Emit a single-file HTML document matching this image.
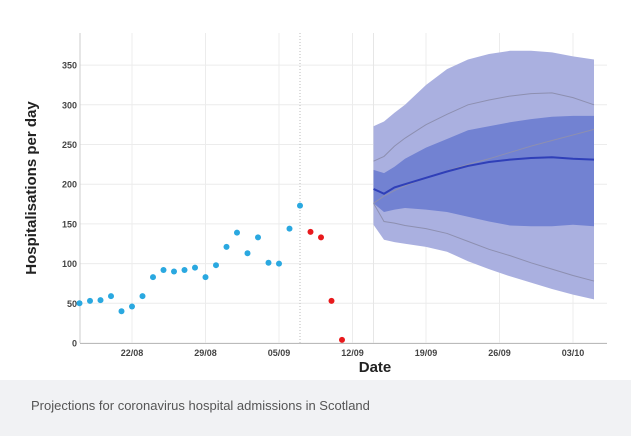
<!DOCTYPE html>
<html><head><meta charset="utf-8"><style>
body{margin:0;width:631px;height:436px;background:#fff;font-family:"Liberation Sans",sans-serif;overflow:hidden}
#cap{position:absolute;left:0;top:380px;width:631px;height:56px;background:#f1f2f4}
#cap span{position:absolute;left:31px;top:18px;font-size:13px;color:#555}
</style></head><body>
<svg id="chart" width="631" height="380" style="position:absolute;left:0;top:0"></svg>
<div id="cap"><span>Projections for coronavirus hospital admissions in Scotland</span></div>
<script>
const yTicks=[0,50,100,150,200,250,300,350];
const xLabelDays=[0,7,14,21,28,35,42];
const xLabels=["22/08","29/08","05/09","12/09","19/09","26/09","03/10"];
const obsDays=[-5,-4,-3,-2,-1,0,1,2,3,4,5,6,7,8,9,10,11,12,13,14,15,16];
const obsVals=[50,53,54,59,40,46,59,83,92,90,92,95,83,98,121,139,113,133,101,100,144,173];
const recentDays=[17,18,19,20];
const recentVals=[140,133,53,4];
const projDays=[23,24,25,26,28,30,32,34,36,38,40,42,44];
const outerHi=[273,279,290,300,325,345,357,364,368,368,366,361,357];
const outerLo=[149,130,127,125,121,115,103,93,84,76,68,61,55];
const innerHi=[218,214,222,232,246,257,268,273,278,282,285,286,286];
const innerLo=[176,165,168,170,168,165,159,153,148,147,147,149,147];
const median=[194,188,196,200,208,216,223,228,231,233,234,232,231];
const gray1=[229,235,248,258,275,288,300,306,311,314,315,309,300];
const gray2=[176,153,151,148,144,138,128,118,110,101,93,85,78];
const gray3=[176,185,192,198,208,217,225,232,240,248,255,262,269];

const NS="http://www.w3.org/2000/svg";
const svg=document.getElementById('chart');
const X=d=>132+d*10.5;
const Y=v=>343-v*0.794;
function mk(t,a){const e=document.createElementNS(NS,t);for(const k in a)e.setAttribute(k,a[k]);svg.appendChild(e);return e;}
yTicks.forEach(v=>{
 const l=mk('line',{x1:80,x2:607,y1:Y(v),y2:Y(v),stroke:'#ececec','stroke-width':1});
 
 
 const t=mk('text',{x:77,y:Y(v)+3.5,'text-anchor':'end','font-size':9,'font-weight':'bold',fill:'#444'});
 t.textContent=v;
 
 
});
xLabelDays.forEach((d,i)=>{
 const l=mk('line',{x1:X(d),x2:X(d),y1:33,y2:343,stroke:'#ececec','stroke-width':1});
 
 
 const t=mk('text',{x:X(d),y:356,'text-anchor':'middle','font-size':9,'font-weight':'bold',fill:'#444'});
 t.textContent=xLabels[i];
 
 
});
const dv=mk('line',{x1:X(16),x2:X(16),y1:33,y2:343,stroke:'#bbb','stroke-dasharray':'1,2'});


const ps=mk('line',{x1:X(23),x2:X(23),y1:33,y2:343,stroke:'#e6e6e6'});


function band(hi,lo,fill,name){
 let d='M'+projDays.map((x,i)=>X(x)+','+Y(hi[i])).join('L');
 d+='L'+projDays.map((x,i)=>[X(x),Y(lo[i])]).reverse().map(p=>p.join(',')).join('L')+'Z';
 const p=mk('path',{d:d,fill:fill});
 
 
}
band(outerHi,outerLo,'#aab0e0','outer-interval-band');
band(innerHi,innerLo,'#7282d2','inner-interval-band');
function line(vals,stroke,w,name){
 const p=mk('polyline',{points:projDays.map((x,i)=>X(x)+','+Y(vals[i])).join(' '),fill:'none',stroke:stroke,'stroke-width':w});
 
 
}
line(gray1,'#8d8fb0',1,'scenario-line-upper');
line(gray2,'#8d8fb0',1,'scenario-line-lower');
line(gray3,'#8d8fb0',1,'scenario-line-middle');
line(median,'#2f3fb8',2,'median-line');
const ax=mk('line',{x1:80,x2:80,y1:33,y2:343,stroke:'#ccc'});


const bx=mk('line',{x1:80,x2:607,y1:343.5,y2:343.5,stroke:'#bbb'});


obsDays.forEach((d,i)=>{
 const c=mk('circle',{cx:X(d),cy:Y(obsVals[i]),r:3,fill:'#2aa8e0'});
 
 
});
recentDays.forEach((d,i)=>{
 const c=mk('circle',{cx:X(d),cy:Y(recentVals[i]),r:3,fill:'#e8191c'});
 
 
});
const yt=mk('text',{x:0,y:0,transform:'translate(36,188) rotate(-90)','text-anchor':'middle','font-size':15,'font-weight':'bold',fill:'#222'});
yt.textContent='Hospitalisations per day';


const xt=mk('text',{x:375,y:372,'text-anchor':'middle','font-size':15,'font-weight':'bold',fill:'#222'});
xt.textContent='Date';


</script>
</body></html>
